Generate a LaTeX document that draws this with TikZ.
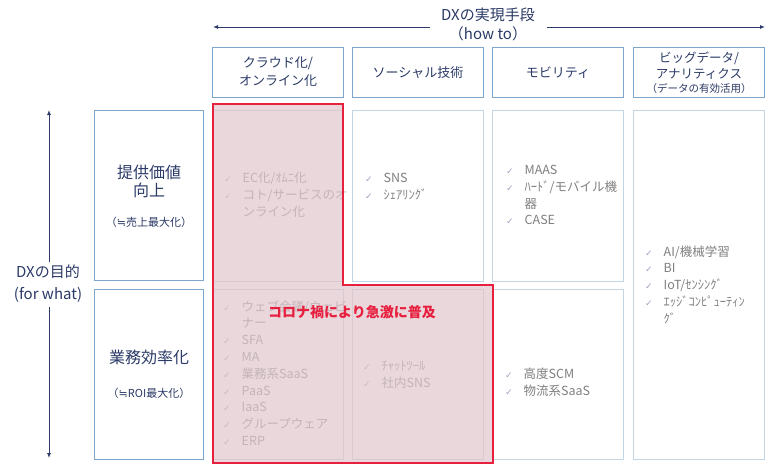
\documentclass[tikz,border=0pt]{standalone}
\usepackage{fontspec}
\setmainfont{Noto Sans CJK JP}
\newfontfamily\ckfont{DejaVu Sans}
\usetikzlibrary{arrows.meta}
\definecolor{navy}{HTML}{2B3A67}
\definecolor{listgray}{HTML}{7F7F7F}
\definecolor{ckcol}{HTML}{9DA3BE}
\definecolor{boxblue}{HTML}{7EA6CB}
\definecolor{cellblue}{HTML}{C3D6E6}
\definecolor{coronared}{HTML}{E8203F}
\definecolor{pinkbg}{HTML}{EAD7DB}
\definecolor{fadetext}{HTML}{C3B4B8}
\definecolor{fadeck}{HTML}{CCBBC7}
\definecolor{fadecell}{HTML}{D8CAD3}
\definecolor{dotcol}{HTML}{F6EEF0}
\newcommand\ckm{\makebox[18.5pt][l]{\ckfont\fontsize{9}{9}\selectfont\color{ckcol}✓}}
\newcommand\ckf{\makebox[18.5pt][l]{\ckfont\fontsize{9}{9}\selectfont\color{fadeck}✓}}
\newcommand\ind{\hspace*{18.5pt}}
\newcommand\approxeq{{\ckfont ≒}}
\tikzset{
  headbox/.style={draw=boxblue, line width=1pt, anchor=north west, minimum width=131pt, minimum height=50pt, inner sep=0pt},
  labelbox/.style={draw=boxblue, line width=1pt, anchor=north west, minimum width=109pt, minimum height=170pt, inner sep=0pt},
  cellbox/.style={draw=cellblue, line width=1pt, anchor=north west, minimum width=131pt, inner sep=0pt},
  fadebox/.style={cellbox, draw=fadecell},
  lst/.style={anchor=base west, inner sep=0pt, align=left, text=listgray, font=\fontsize{12.5}{16.8}\selectfont},
  fadelst/.style={lst, text=fadetext},
  navytext/.style={inner sep=0pt, text=navy},
  headtext/.style={navytext, font=\fontsize{13}{15}\selectfont},
  axarrow/.style={draw=navy, line width=0.9pt, -{Latex[length=5pt,width=4pt]}}
}
\begin{document}
\begin{tikzpicture}[x=1pt,y=-1pt]
\useasboundingbox (0,0) rectangle (772,466);
% top axis
\node[navytext, font=\fontsize{15}{17}\selectfont] (how1) at (488,15) {DXの実現手段};
\node[navytext, font=\fontsize{15}{17}\selectfont] (how2) at (488,34) {（how to）};
\coordinate (aL) at (213,27);
\coordinate (aR) at (765,27);
\draw[axarrow] (430,27) -- (aL);
\draw[axarrow] (547,27) -- (aR);
% left axis
\node[navytext, font=\fontsize{15}{17}\selectfont] (what1) at (48,272) {DXの目的};
\node[navytext, font=\fontsize{15}{17}\selectfont] (what2) at (48,295) {(for what)};
\coordinate (vT) at (49,110);
\coordinate (vB) at (49,458);
\draw[axarrow] (49,262) -- (vT);
\draw[axarrow] (49,307) -- (vB);
% header boxes
\node[headbox] (h1) at (212,47) {};
\node[headbox] (h2) at (352,47) {};
\node[headbox] (h3) at (492,47) {};
\node[headbox] (h4) at (633,47) {};
\node[headtext] (h1a) at (h1.center |- 0,63) {クラウド化/};
\node[headtext] (h1b) at (h1.center |- 0,81) {オンライン化};
\node[headtext] (h2a) at (h2.center) {ソーシャル技術};
\node[headtext] (h3a) at (h3.center) {モビリティ};
\node[headtext, font=\fontsize{12.5}{15}\selectfont] (h4a) at (h4.center |- 0,58) {ビッグデータ/};
\node[headtext, font=\fontsize{12.5}{15}\selectfont] (h4b) at (h4.center |- 0,74) {アナリティクス};
\node[headtext, font=\fontsize{10.5}{13}\selectfont] (h4c) at (h4.center |- 0,88.5) {（データの有効活用）};
% row labels
\node[labelbox] (r1) at (94,110) {};
\node[navytext, font=\fontsize{16}{19}\selectfont] (r1a) at (149,172) {提供価値};
\node[navytext, font=\fontsize{16}{19}\selectfont] (r1b) at (149,190) {向上};
\node[navytext, font=\fontsize{11}{13}\selectfont] (r1s) at (149,222) {（\approxeq 売上最大化）};
\node[labelbox] (r2) at (94,288.5) {};
\node[navytext, font=\fontsize{16}{19}\selectfont] (r2a) at (149,357) {業務効率化};
\node[navytext, font=\fontsize{11}{13}\selectfont] (r2s) at (149,393) {（\approxeq ROI最大化）};
% corona area background (opaque)
\fill[pinkbg] (213,104) -- (343,104) -- (343,284.5) -- (493,284.5) -- (493,463) -- (213,463) -- cycle;
\begin{scope}
  \clip (214,105) -- (342,105) -- (342,285.5) -- (492,285.5) -- (492,462) -- (214,462) -- cycle;
  \foreach \j in {0,...,89} {
    \pgfmathsetmacro{\off}{mod(\j,2)*3}
    \fill[dotcol] \foreach \i in {0,...,46} {({216+\i*6+\off}, {107+\j*4}) circle[radius=0.45pt]};
  }
\end{scope}
% cells
\node[fadebox, minimum height=171pt] (c11) at (212,109.5) {};
\node[cellbox, minimum height=171pt] (c12) at (352,109.5) {};
\node[cellbox, minimum height=171pt] (c13) at (492,109.5) {};
\node[cellbox, minimum height=349pt] (c14) at (633,109.5) {};
\node[fadebox, minimum height=170pt] (c21) at (212,288.5) {};
\node[fadebox, minimum height=170pt] (c22) at (352,288.5) {};
\node[cellbox, minimum height=170pt] (c23) at (492,288.5) {};
% lists (anchor = baseline of last line)
\node[fadelst] (l11) at (224,216.1) {\ckf EC化/ｵﾑﾆ化\\\ckf コト/サービスのオ\\\ind ンライン化};
\node[lst] (l12) at (365,199.3) {\ckm SNS\\\ckm ｼｪｱﾘﾝｸﾞ};
\node[lst] (l13) at (506,224.9) {\ckm MAAS\\\ckm ﾊｰﾄﾞ/モバイル機\\\ind 器\\\ckm CASE};
\node[lst] (l14) at (645,323.2) {\ckm AI/機械学習\\\ckm BI\\\ckm IoT/ｾﾝｼﾝｸﾞ\\\ckm ｴｯｼﾞｺﾝﾋﾟｭｰﾃｨﾝ\\\ind ｸﾞ};
\node[fadelst] (l21) at (223,445.5) {\ckf ウェブ会議/ウェビ\\\ind ナー\\\ckf SFA\\\ckf MA\\\ckf 業務系SaaS\\\ckf PaaS\\\ckf IaaS\\\ckf グループウェア\\\ckf ERP};
\node[fadelst] (l22) at (363,387.3) {\ckf ﾁｬｯﾄﾂｰﾙ\\\ckf 社内SNS};
\node[lst] (l23) at (505,395.3) {\ckm 高度SCM\\\ckm 物流系SaaS};
% corona border and label
\draw[coronared, line width=2pt, line join=miter] (213,104) -- (343,104) -- (343,284.5) -- (493,284.5) -- (493,463) -- (213,463) -- cycle;
\node[inner sep=0pt, text=coronared, font=\fontsize{14}{17}\bfseries\selectfont] (corona) at (352,312) {コロナ禍により急激に普及};
\end{tikzpicture}
\end{document}
